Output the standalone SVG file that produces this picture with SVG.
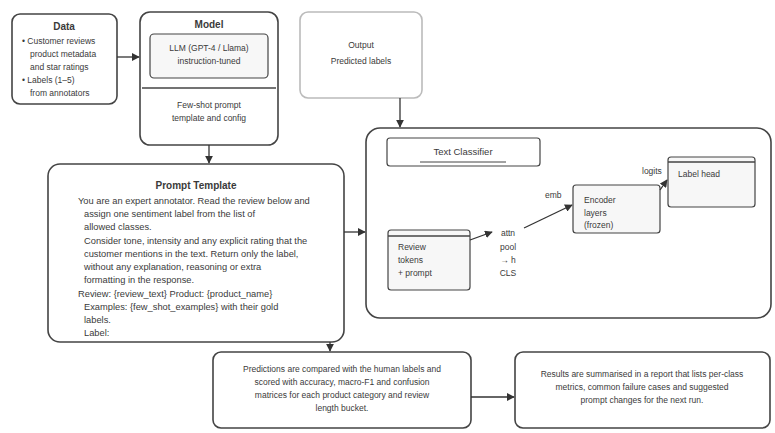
<svg xmlns="http://www.w3.org/2000/svg" width="775" height="433" viewBox="0 0 775 433">
  <defs>
    <marker id="arr" viewBox="0 0 10 10" refX="9" refY="5" markerWidth="6" markerHeight="6" orient="auto-start-reverse">
      <path d="M0,0 L10,5 L0,10 z" fill="#333"/>
    </marker>
    <style>
      .box { fill: #ffffff; stroke: #444; stroke-width: 1.6; }
      .inner { fill: #f7f7f7; stroke: #444; stroke-width: 1.2; }
      .line { fill: none; stroke: #444; stroke-width: 1.4; }
      .edge { fill: none; stroke: #333; stroke-width: 1.3; marker-end: url(#arr); }
      text { font-family: "Liberation Sans", Arial, sans-serif; fill: #3a3a3a; }
      .t { font-size: 9.5px; }
      .s { font-size: 8.5px; }
      .p { font-size: 9.3px; }
      .h { font-size: 10px; font-weight: bold; }
      .c { text-anchor: middle; }
    </style>
  </defs>
  <rect width="775" height="433" fill="#ffffff"/>

  <!-- data sources -->
  <g id="data">
    <rect class="box" x="12" y="14" width="105" height="90" rx="8"/>
    <text class="h c" x="64" y="30">Data</text>
    <text class="s" x="22" y="44">• Customer reviews</text>
    <text class="s" x="30" y="57">product metadata</text>
    <text class="s" x="30" y="70">and star ratings</text>
    <text class="s" x="22" y="83">• Labels (1–5)</text>
    <text class="s" x="30" y="96">from annotators</text>
  </g>

  <!-- model block -->
  <g id="model">
    <rect class="box" x="140" y="12" width="138" height="133" rx="10"/>
    <text class="h c" x="209" y="28">Model</text>
    <rect class="inner" x="150" y="34" width="118" height="44" rx="4"/>
    <text class="s c" x="209" y="51">LLM (GPT-4 / Llama)</text>
    <text class="s c" x="209" y="64">instruction-tuned</text>
    <line class="line" x1="142" y1="88" x2="276" y2="88"/>
    <text class="s c" x="209" y="108">Few-shot prompt</text>
    <text class="s c" x="209" y="121">template and config</text>
  </g>

  <!-- output block -->
  <g id="output">
    <rect class="box" x="300" y="12" width="122" height="86" rx="8" style="stroke:#bbb"/>
    <text class="s c" x="361" y="48">Output</text>
    <text class="s c" x="361" y="64">Predicted labels</text>
  </g>

  <!-- prompt template -->
  <g id="prompt">
    <rect class="box" x="48" y="164" width="296" height="178" rx="12"/>
    <text class="h c" x="196" y="189">Prompt Template</text>
    <text class="p" x="78" y="204">You are an expert annotator. Read the review below and</text>
    <text class="p" x="84" y="217">assign one sentiment label from the list of</text>
    <text class="p" x="84" y="230">allowed classes.</text>
    <text class="p" x="84" y="244">Consider tone, intensity and any explicit rating that the</text>
    <text class="p" x="84" y="257">customer mentions in the text. Return only the label,</text>
    <text class="p" x="84" y="270">without any explanation, reasoning or extra</text>
    <text class="p" x="84" y="283">formatting in the response.</text>
    <text class="p" x="78" y="297">Review: {review_text}   Product: {product_name}</text>
    <text class="p" x="84" y="310">Examples: {few_shot_examples} with their gold</text>
    <text class="p" x="84" y="323">labels.</text>
    <text class="p" x="84" y="336">Label:</text>
  </g>

  <!-- classifier block -->
  <g id="classifier">
    <rect class="box" x="366" y="128" width="405" height="190" rx="14"/>
    <rect class="inner" x="387" y="138" width="153" height="28" rx="3" style="fill:#fff"/>
    <text class="t c" x="463" y="155">Text Classifier</text>
    <line class="line" x1="420" y1="162" x2="506" y2="162" style="stroke-width:1"/>

    <g id="n-root">
      <rect class="inner" x="388" y="230" width="82" height="60" rx="3"/>
      <line class="line" x1="388" y1="236" x2="470" y2="236"/>
      <text class="s" x="398" y="250">Review</text>
      <text class="s" x="398" y="263">tokens</text>
      <text class="s" x="398" y="276">+ prompt</text>
    </g>
    <g id="n-mid">
      <rect class="inner" x="573" y="185" width="87" height="48" rx="3"/>
      <text class="s" x="584" y="203">Encoder</text>
      <text class="s" x="584" y="216">layers</text>
      <text class="s" x="584" y="228">(frozen)</text>
    </g>
    <g id="n-top">
      <rect class="inner" x="668" y="157" width="87" height="50" rx="3"/>
      <line class="line" x1="668" y1="162" x2="755" y2="162"/>
      <text class="s" x="678" y="177">Label head</text>
    </g>
    <text class="s c" x="508" y="236">attn</text>
    <text class="s c" x="508" y="250">pool</text>
    <text class="s c" x="508" y="263">→ h</text>
    <text class="s c" x="508" y="276">CLS</text>
    <text class="s" x="545" y="198">emb</text>
    <text class="s" x="642" y="174">logits</text>
  </g>

  <!-- evaluation -->
  <g id="evaluation">
    <rect class="box" x="213" y="352" width="258" height="76" rx="8"/>
    <text class="s c" x="342" y="372">Predictions are compared with the human labels and</text>
    <text class="s c" x="342" y="385">scored with accuracy, macro-F1 and confusion</text>
    <text class="s c" x="342" y="398">matrices for each product category and review</text>
    <text class="s c" x="342" y="411">length bucket.</text>
  </g>

  <!-- report -->
  <g id="report">
    <rect class="box" x="515" y="352" width="255" height="76" rx="8"/>
    <text class="s c" x="642" y="377">Results are summarised in a report that lists per-class</text>
    <text class="s c" x="642" y="390">metrics, common failure cases and suggested</text>
    <text class="s c" x="642" y="403">prompt changes for the next run.</text>
  </g>

  <!-- connectors -->
  <g id="connectors">
    <path class="edge" d="M117,57 L139,57"/>
    <path class="edge" d="M209,145 L209,163"/>
    <path class="edge" d="M400,98 L400,127"/>
    <path class="edge" d="M344,232 L365,232"/>
    <path class="edge" d="M330,342 L330,351"/>
    <path class="edge" d="M471,397 L514,397"/>
    <path class="edge" d="M470,240 L492,232"/>
    <path class="edge" d="M524,228 L572,205"/>
    <path class="edge" d="M660,190 L667,180"/>
  </g>
</svg>
